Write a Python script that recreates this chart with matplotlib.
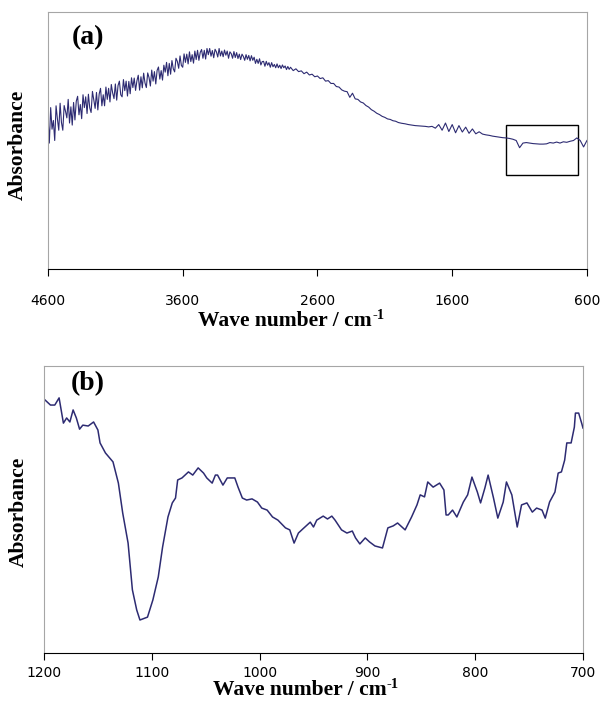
import matplotlib
matplotlib.use("Agg")
import matplotlib.pyplot as plt
import matplotlib.patches as pt
import numpy as np

LINECOLOR = "#2d2b72"
FRAMEGRAY = "#a6a6a6"
LABELFONT = dict(family="Liberation Serif", weight="bold", size=15.5)

# ---- panel (a): full spectrum, 4600 -> 600 cm-1 (arbitrary absorbance) ----
wn_a_hi = np.arange(4600, 2799, -10)      # 10 cm-1 spacing, noisy part
abs_a_hi = [
    0.593, 0.490, 0.628, 0.544, 0.578, 0.500, 0.635, 0.584, 0.540, 0.645,
    0.570, 0.540, 0.636, 0.614, 0.588, 0.660, 0.568, 0.631, 0.560, 0.648,
    0.580, 0.653, 0.672, 0.600, 0.640, 0.585, 0.678, 0.628, 0.670, 0.605,
    0.680, 0.627, 0.609, 0.691, 0.658, 0.625, 0.687, 0.619, 0.681, 0.703,
    0.635, 0.678, 0.635, 0.708, 0.660, 0.703, 0.650, 0.718, 0.685, 0.663,
    0.720, 0.657, 0.714, 0.731, 0.678, 0.670, 0.737, 0.694, 0.731, 0.673,
    0.730, 0.682, 0.744, 0.706, 0.743, 0.695, 0.732, 0.754, 0.696, 0.748,
    0.705, 0.762, 0.724, 0.706, 0.763, 0.745, 0.712, 0.774, 0.731, 0.768,
    0.720, 0.773, 0.786, 0.739, 0.772, 0.735, 0.793, 0.766, 0.804, 0.752,
    0.800, 0.758, 0.811, 0.779, 0.767, 0.820, 0.808, 0.781, 0.829, 0.792,
    0.785, 0.837, 0.804, 0.836, 0.798, 0.845, 0.807, 0.834, 0.801, 0.848,
    0.815, 0.851, 0.812, 0.843, 0.854, 0.820, 0.851, 0.817, 0.858, 0.834,
    0.858, 0.828, 0.850, 0.822, 0.855, 0.845, 0.825, 0.858, 0.829, 0.848,
    0.826, 0.852, 0.832, 0.848, 0.820, 0.845, 0.838, 0.820, 0.846, 0.823,
    0.842, 0.819, 0.836, 0.815, 0.836, 0.827, 0.812, 0.834, 0.816, 0.831,
    0.810, 0.830, 0.812, 0.824, 0.800, 0.816, 0.800, 0.818, 0.794, 0.807,
    0.808, 0.789, 0.808, 0.793, 0.803, 0.785, 0.803, 0.787, 0.796, 0.783,
    0.798, 0.783, 0.793, 0.780, 0.794, 0.783, 0.790, 0.776, 0.788, 0.777,
    0.785,
]
wn_a_mid = np.arange(2780, 1999, -20)     # 20 cm-1 spacing
abs_a_mid = [
    0.772, 0.779, 0.768, 0.771, 0.760, 0.766, 0.755, 0.758, 0.748, 0.751,
    0.741, 0.744, 0.731, 0.733, 0.722, 0.722, 0.710, 0.708, 0.697, 0.692,
    0.690, 0.668, 0.684, 0.662, 0.660, 0.650, 0.646, 0.636, 0.630, 0.620,
    0.614, 0.606, 0.601, 0.594, 0.590, 0.584, 0.582, 0.577, 0.575, 0.570,
]
wn_a_lo = np.arange(1975, 599, -25)       # 25 cm-1 spacing
abs_a_lo = [
    0.567, 0.565, 0.562, 0.560, 0.558, 0.557, 0.556, 0.555, 0.553, 0.555,
    0.548, 0.562, 0.540, 0.568, 0.535, 0.562, 0.530, 0.558, 0.533, 0.552,
    0.528, 0.545, 0.526, 0.534, 0.525, 0.522, 0.520, 0.517, 0.515, 0.513,
    0.511, 0.510, 0.508, 0.505, 0.500, 0.472, 0.490, 0.492, 0.490, 0.488,
    0.487, 0.486, 0.486, 0.487, 0.492, 0.490, 0.494, 0.490, 0.495, 0.493,
    0.497, 0.500, 0.510, 0.500, 0.475, 0.500,
]
wn_a = np.concatenate([wn_a_hi, wn_a_mid, wn_a_lo])
abs_a = abs_a_hi + abs_a_mid + abs_a_lo
a_ticks = [4600, 3600, 2600, 1600, 600]
zoom_box_x = (1200, 667)      # region shown in (b)
zoom_box_y = (0.366, 0.560)

# ---- panel (b): 1200 -> 700 cm-1 ----
wn_b = [1200, 1194, 1190, 1186, 1182, 1179, 1176, 1173, 1170, 1167,
        1164, 1159, 1154, 1150, 1148, 1143, 1136, 1131, 1127, 1122,
        1118, 1114, 1111, 1104, 1099, 1094, 1090, 1085, 1081, 1078,
        1076, 1072, 1066, 1062, 1057, 1052, 1049, 1044, 1041, 1039,
        1034, 1030, 1023, 1020, 1016, 1012, 1007, 1002, 998, 993,
        988, 983, 976, 972, 968, 964, 960, 953, 950, 947,
        941, 937, 933, 930, 924, 919, 914, 911, 907, 902,
        898, 893, 886, 881, 876, 872, 865, 859, 854, 851,
        847, 844, 839, 833, 829, 827, 825, 821, 817, 811,
        807, 803, 798, 795, 791, 788, 783, 779, 774, 771,
        766, 761, 757, 752, 747, 743, 738, 735, 731, 726,
        723, 720, 717, 715, 711, 708, 707, 704, 701, 700]
abs_b = [0.885, 0.864, 0.864, 0.889, 0.801, 0.819, 0.805, 0.847, 0.819, 0.780,
         0.794, 0.791, 0.805, 0.777, 0.732, 0.697, 0.666, 0.592, 0.488, 0.383,
         0.220, 0.150, 0.115, 0.125, 0.185, 0.265, 0.369, 0.474, 0.523, 0.540,
         0.603, 0.610, 0.631, 0.620, 0.645, 0.627, 0.610, 0.592, 0.620, 0.620,
         0.585, 0.610, 0.610, 0.578, 0.540, 0.533, 0.537, 0.526, 0.505, 0.498,
         0.474, 0.463, 0.436, 0.429, 0.383, 0.418, 0.432, 0.456, 0.439, 0.463,
         0.477, 0.467, 0.477, 0.463, 0.429, 0.418, 0.425, 0.401, 0.380, 0.401,
         0.387, 0.373, 0.366, 0.436, 0.443, 0.453, 0.429, 0.474, 0.516, 0.551,
         0.544, 0.596, 0.578, 0.592, 0.568, 0.481, 0.481, 0.498, 0.474, 0.526,
         0.551, 0.613, 0.561, 0.523, 0.575, 0.620, 0.540, 0.470, 0.526, 0.596,
         0.551, 0.439, 0.516, 0.523, 0.491, 0.505, 0.498, 0.470, 0.526, 0.561,
         0.627, 0.631, 0.672, 0.732, 0.732, 0.787, 0.836, 0.836, 0.798, 0.784]
b_ticks = [1200, 1100, 1000, 900, 800, 700]

fig = plt.figure(figsize=(6.02, 7.02), dpi=100)
ax1 = fig.add_axes([0.0797, 0.6168, 0.8953, 0.3661])
ax2 = fig.add_axes([0.0731, 0.0698, 0.8953, 0.4088])


def style(ax, ticks, pad):
    for s in ["top", "right", "left"]:
        ax.spines[s].set_color(FRAMEGRAY)
    ax.spines["bottom"].set_color("black")
    ax.set_yticks([])
    ax.set_xticks(ticks)
    ax.set_xticklabels([str(t) for t in ticks], family="DejaVu Sans", size=10)
    ax.tick_params(axis="x", direction="out", length=5, width=0.8, pad=pad)


def wavenumber_label(ax, x, y):
    lab = ax.set_xlabel("Wave number / cm", va="center", **LABELFONT)
    ax.xaxis.set_label_coords(x, y)
    # superscript -1 attached to the label
    ax.annotate("-1", xy=(1, 1), xycoords=lab, xytext=(0.5, 1.5),
                textcoords="offset points", ha="left", va="top",
                family="Liberation Serif", weight="bold", size=10.5)


ax1.plot(wn_a, abs_a, color=LINECOLOR, lw=0.8)
ax1.set_xlim(4600, 600)
ax1.set_ylim(0, 1)
style(ax1, a_ticks, 13)
ax1.add_patch(pt.Rectangle((zoom_box_x[0], zoom_box_y[0]),
                           zoom_box_x[1] - zoom_box_x[0],
                           zoom_box_y[1] - zoom_box_y[0],
                           fill=False, edgecolor="black", lw=1.0))
ax1.text(0.074, 0.90, "(a)", transform=ax1.transAxes, ha="center", va="center",
         family="Liberation Serif", weight="bold", size=20)
wavenumber_label(ax1, 0.44, -0.203)
ax1.set_ylabel("Absorbance", va="center", **LABELFONT)
ax1.yaxis.set_label_coords(-0.056, 0.482)

ax2.plot(wn_b, abs_b, color=LINECOLOR, lw=1.1)
ax2.set_xlim(1200, 700)
ax2.set_ylim(0, 1)
style(ax2, b_ticks, 4)
ax2.text(0.082, 0.94, "(b)", transform=ax2.transAxes, ha="center", va="center",
         family="Liberation Serif", weight="bold", size=20)
wavenumber_label(ax2, 0.474, -0.13)
ax2.set_ylabel("Absorbance", va="center", **LABELFONT)
ax2.yaxis.set_label_coords(-0.046, 0.491)

fig.savefig("out.png", dpi=100)
